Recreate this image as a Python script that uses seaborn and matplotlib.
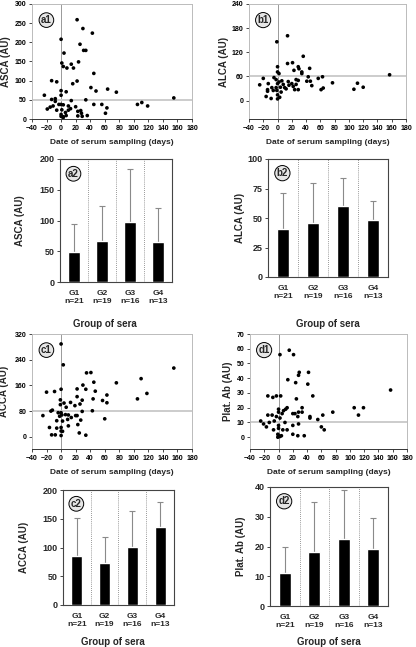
import numpy as np
import matplotlib
matplotlib.use('Agg')
import matplotlib.pyplot as plt
import seaborn as sns

sns.set_style('white')
plt.rcParams['font.family'] = ['Liberation Sans', 'DejaVu Sans']
plt.rcParams['font.weight'] = 'bold'

W, H = 416, 647

# --- scatter data: day of sampling vs antibody level ---
asca_days = [-23, 22, 30, 43, 0, 26, 4, 31, 34, 1, 14, 24, 3, 8, 17, 45, -13, -6, 22, 16,
             41, 64, 48, 76, 0, 7, 0, -13, -8, -8, 14, 34, 155, 105, 111, 119, 45, 56, 63, 61,
             -19, -15, -11, -6, -3, 0, 3, 10, 13, 10, 1, 6, 0, 0, 3, 7, 23, 27, 23, 28,
             29, 36, 20, 3]
asca_vals = [62, 259, 236, 224, 208, 195, 172, 179, 179, 146, 143, 149, 137, 133, 133, 119, 100, 97, 99, 92,
             82, 78, 73, 70, 74, 71, 62, 51, 53, 46, 48, 50, 55, 38, 43, 34, 38, 38, 29, 15,
             26, 31, 34, 23, 38, 38, 37, 34, 27, 23, 24, 17, 12, 7, 6, 9, 20, 22, 8, 15,
             7, 9, 32, 4]

alca_days = [-25, -20, -13, -14, -14, -16, -9, -8, -6, -5, -2, -1, 0, 0, 2, 14, 14, 0, 2, 4,
             -2, -1, 0, 0, 3, 5, 6, 10, 12, 15, 20, 22, 21, 23, 26, 26, 24, 29, 29, 30,
             34, 34, 36, 29, 43, 45, 41, 46, 48, 57, 63, 61, 64, 77, 107, 112, 120, 157,
             16, 8]
alca_vals = [39, 55, 42, 27, 23, 10, 5, 32, 25, 57, 52, 146, 84, 71, 67, 161, 92, 42, 46, 33,
             32, 25, 14, 4, 8, 21, 49, 32, 29, 47, 42, 35, 94, 75, 52, 40, 27, 27, 84, 79,
             71, 67, 110, 50, 59, 80, 48, 48, 37, 55, 59, 27, 31, 44, 28, 43, 33, 64,
             38, 40]

acca_days = [0, 3, 35, 41, 155, 110, 76, 45, 30, 34, 22, 0, -20, -9, 47, 22, 63, 118, 105, 44,
             29, 57, 63, -1, 4, -1, 13, 26, 7, 19, -12, -14, -4, 0, 1, -2, -25, 6, 10, 14,
             20, 22, 29, 43, 9, 2, -6, 27, 60, 23, 10, -16, -6, 0, 0, -13, -8, 0, 2, 25,
             34]
acca_vals = [289, 224, 199, 200, 214, 181, 168, 170, 161, 148, 149, 148, 139, 141, 142, 125, 130, 135, 118, 118,
             114, 113, 106, 115, 105, 100, 107, 102, 92, 97, 83, 80, 75, 75, 68, 64, 66, 69, 68, 60,
             66, 66, 79, 81, 54, 49, 50, 52, 56, 38, 34, 29, 27, 29, 18, 6, 6, 4, 17, 12,
             5]

plat_days = [15, 2, 21, 29, 42, 28, 13, 24, 41, 157, 48, -15, -8, -3, 3, 25, 106, 119, 112, 76,
             62, 44, 44, 55, 33, 28, 33, 27, 20, 23, 10, 7, 12, 5, 0, 0, -3, -9, -15, -25,
             -21, -17, -13, -6, 2, 9, 20, 28, -7, 0, 6, 12, 20, 27, 36, 60, 64, -1, 0, 2,
             -1, 4, 0]
plat_vals = [59, 56, 56, 44, 44, 42, 39, 37, 36, 32, 28, 28, 27, 28, 28, 26, 20, 20, 15, 17,
             15, 14, 13, 12, 20, 17, 17, 14, 16, 16, 19, 18, 20, 16, 19, 17, 14, 15, 15, 11,
             9, 7, 10, 11, 13, 10, 8, 9, 5, 6, 5, 5, 2, 1, 1, 7, 5, 2, 1, 0.5,
             0, 1, 8]

# --- bar data: group means and SD ---
groups = ['G1\nn=21', 'G2\nn=19', 'G3\nn=16', 'G4\nn=13']
asca_mean = [48, 66, 97, 65]
asca_sd = [46, 58, 87, 55]
alca_mean = [41, 46, 60, 48]
alca_sd = [30, 34, 24, 16]
acca_mean = [85, 73, 101, 136]
acca_sd = [66, 46, 62, 43]
plat_mean = [11, 18, 22.5, 19]
plat_sd = [9, 17, 16.5, 10.5]


def px_axes(fig, left, top, right, bottom):
    return fig.add_axes([left / W, 1 - bottom / H, (right - left) / W, (bottom - top) / H])


def tag(ax, text, x, y):
    ax.text(x, y, text, transform=ax.transAxes, fontsize=7, fontweight='bold',
            ha='center', va='center', zorder=5,
            bbox=dict(boxstyle='circle,pad=0.2', fc='#e6e6e6', ec='black', lw=0.7))


def scatter_panel(ax, days, vals, ylim, yticks, cutoff, label, ylabel, ylab_x):
    ax.axvline(0, color='#999999', lw=0.7, zorder=1)
    ax.axhline(cutoff, color='#cccccc', lw=1.4, zorder=1)
    sns.scatterplot(x=days, y=vals, ax=ax, color='black', s=7, edgecolor='none',
                    linewidth=0, zorder=3, legend=False)
    ax.set_xlim(-40, 180)
    ax.set_xticks(range(-40, 181, 20))
    ax.set_ylim(*ylim)
    ax.set_yticks(yticks)
    for s in ['top', 'right', 'left']:
        ax.spines[s].set_color('#bbbbbb')
        ax.spines[s].set_linewidth(0.7)
    ax.spines['bottom'].set_color('#333333')
    ax.spines['bottom'].set_linewidth(0.7)
    ax.tick_params(labelsize=5, length=2, width=0.5, pad=2, direction='out',
                   bottom=True, left=True, colors='black')
    ax.set_xlabel('Date of serum sampling (days)', fontsize=6, fontweight='bold')
    ax.xaxis.set_label_coords(0.5, -0.175)
    ax.set_ylabel(ylabel, fontsize=7, fontweight='bold')
    ax.yaxis.set_label_coords(ylab_x, 0.5)
    tag(ax, label, 0.09, 0.86)


def bar_panel(ax, means, sds, ymax, ystep, label, ylabel, ylab_x, xlab_x, xlab_y):
    sns.barplot(x=groups, y=means, ax=ax, color='black', saturation=1, width=0.4,
                errorbar=None, zorder=3)
    ax.errorbar(range(len(groups)), means, yerr=[np.zeros(len(sds)), sds], fmt='none',
                ecolor='#8a8a8a', elinewidth=0.8, capsize=2.5, capthick=0.8, zorder=2)
    for xx in [0.5, 1.5, 2.5]:
        ax.axvline(xx, color='#777777', ls=(0, (1, 1.5)), lw=0.6, zorder=1)
    ax.set_xlim(-0.5, 3.5)
    ax.set_ylim(0, ymax)
    ax.set_yticks(np.arange(0, ymax + 0.1, ystep))
    for s in ax.spines.values():
        s.set_color('#444444')
        s.set_linewidth(0.8)
    ax.tick_params(axis='y', labelsize=6.5, length=2, width=0.6, pad=2, left=True)
    ax.tick_params(axis='x', labelsize=6, length=0, pad=6)
    ax.set_xlabel('Group of sera', fontsize=7, fontweight='bold')
    ax.xaxis.set_label_coords(xlab_x, xlab_y)
    ax.set_ylabel(ylabel, fontsize=7, fontweight='bold')
    ax.yaxis.set_label_coords(ylab_x, 0.5)
    tag(ax, label, 0.12, 0.88)


fig = plt.figure(figsize=(W / 100, H / 100), dpi=100)

ax_a1 = px_axes(fig, 32, 4, 192, 119)
ax_b1 = px_axes(fig, 249, 4, 406, 119)
ax_a2 = px_axes(fig, 60, 159, 172, 282)
ax_b2 = px_axes(fig, 268, 159, 388, 277)
ax_c1 = px_axes(fig, 32, 334, 192, 449)
ax_d1 = px_axes(fig, 250, 334, 407, 449)
ax_c2 = px_axes(fig, 63, 490, 174, 605)
ax_d2 = px_axes(fig, 270, 487, 388, 606)

scatter_panel(ax_a1, asca_days, asca_vals, (0, 300), range(0, 301, 50), 50, 'a1', 'ASCA (AU)', -0.13)
scatter_panel(ax_b1, alca_days, alca_vals, (-46, 240), range(0, 241, 60), 60, 'b1', 'ALCA (AU)', -0.127)
scatter_panel(ax_c1, acca_days, acca_vals, (-38, 320), range(0, 321, 80), 80, 'c1', 'ACCA (AU)', -0.145)
scatter_panel(ax_d1, plat_days, plat_vals, (-8, 70), range(0, 71, 10), 10, 'd1', 'Plat. Ab (AU)', -0.108)

bar_panel(ax_a2, asca_mean, asca_sd, 200, 50, 'a2', 'ASCA (AU)', -0.31, 0.4, -0.30)
bar_panel(ax_b2, alca_mean, alca_sd, 100, 25, 'b2', 'ALCA (AU)', -0.19, 0.5, -0.356)
bar_panel(ax_c2, acca_mean, acca_sd, 200, 50, 'c2', 'ACCA (AU)', -0.306, 0.45, -0.278)
bar_panel(ax_d2, plat_mean, plat_sd, 40, 10, 'd2', 'Plat. Ab (AU)', -0.203, 0.5, -0.26)

fig.savefig('out.png', dpi=100)
